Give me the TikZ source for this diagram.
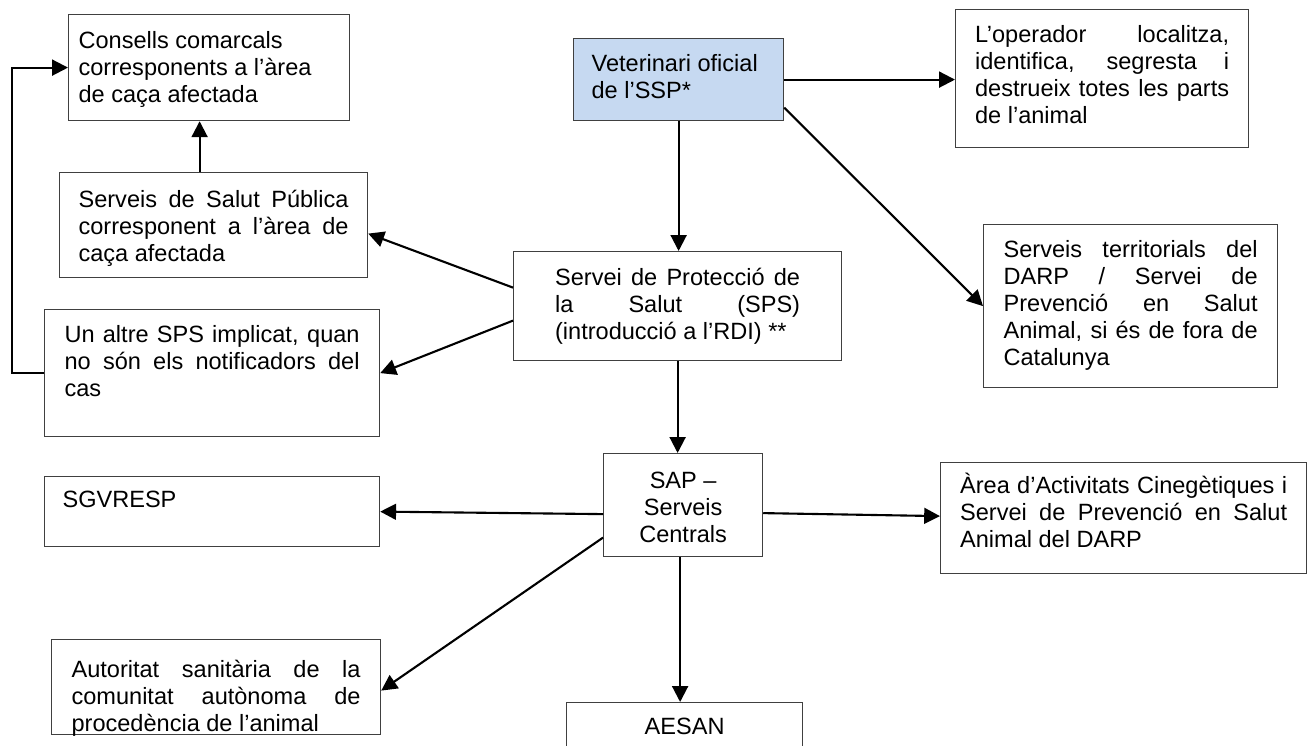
\documentclass[tikz,border=0pt]{standalone}
\usepackage{fontspec}
\setmainfont{Liberation Sans}
\usetikzlibrary{arrows.meta}

\definecolor{vetblue}{HTML}{C6D9F1}
\newlength\pxu
\setlength\pxu{0.02cm}
% text block at the top of a box: [baseline]{height}{width}{lines}
\newcommand{\boxtxt}[4][33]{\parbox[t][#2\pxu][t]{#3\pxu}{\rule{0pt}{#1\pxu}#4}}
% justified line
\newcommand{\jl}[1]{\makebox[\linewidth][s]{#1}\\}

\begin{document}
\begin{tikzpicture}[
    x=0.02cm, y=-0.02cm,
    every node/.style={font=\fontsize{13.4}{15.3}\selectfont},
    box/.style={draw=black!75, line width=0.7pt, anchor=north west, inner ysep=0pt, inner xsep=#1\pxu},
    box/.default=20,
    link/.style={-{Triangle[length=9pt, width=9pt]}, line width=1.2pt}
]
\useasboundingbox (0,0) rectangle (1311,746);

% Left column
\node[box=10] (consells) at (68,14) {\boxtxt[34]{106}{261}{Consells comarcals\\corresponents a l’àrea\\de caça afectada}};
\node[box=19] (salut) at (59,172) {\boxtxt[35]{105}{270}{\jl{Serveis de Salut Pública}\jl{corresponent a l’àrea de}caça afectada}};
\node[box=20] (altre) at (44,309) {\boxtxt{127}{295}{\jl{Un altre SPS implicat, quan}\jl{no són els notificadors del}cas}};
\node[box=18] (sgvresp) at (44,476) {\boxtxt[31]{70}{299}{SGVRESP}};
\node[box=20] (autoritat) at (51,639) {\boxtxt[38]{95}{289}{\jl{Autoritat sanitària de la}\jl{comunitat autònoma de}procedència de l’animal}};

% Middle column
\node[box=18, fill=vetblue] (veterinari) at (573,38) {\boxtxt{82}{174}{Veterinari oficial\\de l’SSP*}};
\node[box=41.5] (sps) at (513,251) {\boxtxt[34]{109}{245}{\jl{Servei de Protecció de}\jl{la Salut (SPS)}(introducció a l’RDI) **}};
\node[box=10] (sap) at (603,453) {\boxtxt[35]{103}{139}{\centering SAP –\\Serveis\\Centrals}};
\node[box=10] (aesan) at (566,702) {\boxtxt[32]{70}{216}{\centering AESAN}};

% Right column
\node[box=19.5] (operador) at (955,9) {\boxtxt{138}{254}{\jl{L’operador localitza,}\jl{identifica, segresta i}\jl{destrueix totes les parts}de l’animal}};
\node[box=20] (territorials) at (983,224) {\boxtxt{163}{254}{\jl{Serveis territorials del}\jl{DARP / Servei de}\jl{Prevenció en Salut}\jl{Animal, si és de fora de}Catalunya}};
\node[box=19.5] (area) at (940,462) {\boxtxt[31]{111}{327}{\jl{Àrea d’Activitats Cinegètiques i}\jl{Servei de Prevenció en Salut}Animal del DARP}};

% Connectors
\draw[link] (veterinari.east) -- (veterinari.east -| operador.west);
\draw[link] ([yshift=-28\pxu]veterinari.east) -- (territorials.west);
\draw[link] (veterinari.south) -- (veterinari.south |- sps.north);
\draw[link] ([yshift=18.5\pxu]sps.west) -- ([yshift=-8.5\pxu]salut.east);
\draw[link] ([yshift=-14.5\pxu]sps.west) -- (altre.east);
\draw[link] ([xshift=-14\pxu]salut.north) -- ([xshift=-14\pxu]salut.north |- consells.south);
\draw[link] (altre.west) -- ++(-32\pxu,0pt) |- (consells.west);
\draw[link] (sps.south) -- (sps.south |- sap.north);
\draw[link] ([yshift=-9\pxu]sap.west) -- (sgvresp.east);
\draw[link] ([yshift=-8\pxu]sap.east) -- ([yshift=2\pxu]area.west);
\draw[link] ([yshift=-32.5\pxu]sap.west) -- ([yshift=-3.5\pxu]autoritat.east);
\draw[link] ([xshift=-3\pxu]sap.south) -- ([xshift=-3\pxu]sap.south |- aesan.north);

\end{tikzpicture}
\end{document}
